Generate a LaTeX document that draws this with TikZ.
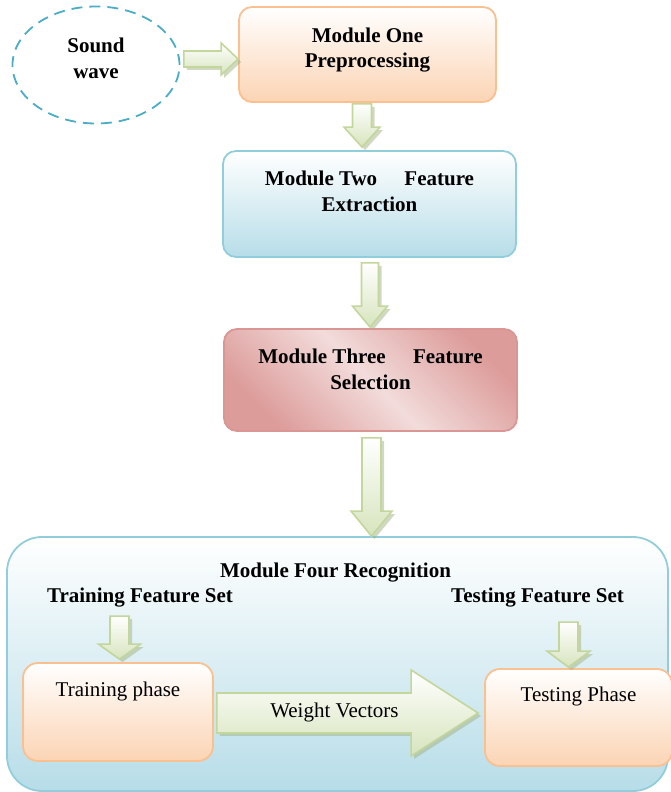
\documentclass[tikz,border=0pt]{standalone}
\usepackage{fontspec}
\setmainfont{Liberation Serif}
\usetikzlibrary{shapes.geometric,shadows,calc}

\definecolor{waveline}{HTML}{4BACC6}
\definecolor{orangeline}{HTML}{FAC090}
\definecolor{orangefill}{HTML}{FBD4B4}
\definecolor{blueline}{HTML}{92CDDC}
\definecolor{bluefill}{HTML}{B7DDE8}
\definecolor{redline}{HTML}{D99694}
\definecolor{reddark}{HTML}{DC9C9A}
\definecolor{redlight}{HTML}{F2DCDB}
\definecolor{greenline}{HTML}{C3D69B}
\definecolor{greenfill}{HTML}{D7E4BD}
\definecolor{greenshade}{HTML}{A3B284}

\tikzstyle{boldtext} = [font=\fontsize{21}{25.5}\selectfont\bfseries, align=center]
\tikzstyle{plaintext} = [font=\fontsize{21}{25.5}\selectfont, align=center]
\tikzstyle{wave} = [ellipse, draw=waveline, line width=1.8pt, dash pattern=on 11pt off 7pt]
\tikzstyle{orangebox} = [draw=orangeline, line width=1.8pt, rounded corners=13pt, top color=white, bottom color=orangefill]
\tikzstyle{bluebox} = [draw=blueline, line width=1.8pt, rounded corners=13pt, top color=white, bottom color=bluefill]
\tikzstyle{redbox} = [draw=redline, line width=1.8pt, rounded corners=13pt, top color=reddark, bottom color=reddark, middle color=redlight, shading angle=-45]
\tikzstyle{flowarrow} = [draw=greenline, line width=1.6pt, line join=miter, top color=white, bottom color=greenfill,
  drop shadow={shadow xshift=3pt, shadow yshift=-3pt, fill=greenshade}]

% block arrow pointing down: top, tip, half shaft, half head, head length
\newcommand{\flowdown}[5]{%
  \path[flowarrow] let \p1=(#1), \p2=(#2) in
    (\x1-#3,\y1) -- (\x1+#3,\y1) -- (\x1+#3,\y2+#5) -- (\x1+#4,\y2+#5) -- (\x1,\y2)
    -- (\x1-#4,\y2+#5) -- (\x1-#3,\y2+#5) -- cycle;}
% block arrow pointing right: start, tip, half shaft, half head, head length
\newcommand{\flowright}[5]{%
  \path[flowarrow] let \p1=(#1), \p2=(#2) in
    (\x1,\y1-#3) -- (\x2-#5,\y1-#3) -- (\x2-#5,\y1-#4) -- (\x2,\y1) -- (\x2-#5,\y1+#4)
    -- (\x2-#5,\y1+#3) -- (\x1,\y1+#3) -- cycle;}

\begin{document}
\begin{tikzpicture}[x=1pt, y=1pt]
\useasboundingbox (0,0) rectangle (671,792);

% input and the three first modules
\node[wave, minimum width=167pt, minimum height=117pt] (sound) at (96,727) {};
\node[boldtext] (soundtxt) at (96,733.5) {Sound\\wave};

\node[orangebox, minimum width=257pt, minimum height=95pt] (m1) at (367.5,737.5) {};
\node[boldtext] (m1txt) at ([yshift=-44pt]m1.north) {Module One\\Preprocessing};

\node[bluebox, minimum width=293pt, minimum height=106pt] (m2) at (369.5,588) {};
\node[boldtext] (m2txt) at ([yshift=-41pt]m2.north) {Module Two\hspace{22pt} Feature\\Extraction};

\node[redbox, minimum width=293pt, minimum height=102pt] (m3) at (370.5,412) {};
\node[boldtext] (m3txt) at ([yshift=-41pt]m3.north) {Module Three\hspace{22pt} Feature\\Selection};

% recognition module
\node[bluebox, rounded corners=35pt, minimum width=661pt, minimum height=254pt] (m4) at (337.5,128) {};
\node[boldtext] (m4txt) at (335.5,219) {Module Four Recognition};
\node[boldtext] (trainset) at (140,194) {Training Feature Set};
\node[boldtext] (testset) at (537.5,194) {Testing Feature Set};

\node[orangebox, rounded corners=15pt, minimum width=190pt, minimum height=98pt] (train) at (118,80) {};
\node[plaintext] (traintxt) at ([yshift=-29pt]train.north) {Training phase};
\node[orangebox, rounded corners=15pt, minimum width=187pt, minimum height=97pt] (test) at (578.5,74.5) {};
\node[plaintext] (testtxt) at ([yshift=-28pt]test.north) {Testing Phase};

% connectors
\coordinate (a0s) at ([xshift=3.5pt, yshift=6pt]sound.east);
\coordinate (a0e) at (m1.west |- a0s);
\flowright{a0s}{a0e}{8pt}{16pt}{17pt}

\coordinate (a1s) at ([xshift=-5.5pt, yshift=-1pt]m1.south);
\coordinate (a1e) at ($(a1s |- m2.north)+(0,3)$);
\flowdown{a1s}{a1e}{9.5pt}{18pt}{20pt}

\coordinate (a2s) at ([xshift=0.5pt, yshift=-5pt]m2.south);
\coordinate (a2e) at ($(a2s |- m3.north)+(0,1)$);
\flowdown{a2s}{a2e}{8.5pt}{17.5pt}{21pt}

\coordinate (a3s) at ([xshift=1pt, yshift=-6pt]m3.south);
\coordinate (a3e) at (a3s |- m4.north);
\flowdown{a3s}{a3e}{9.5pt}{20.5pt}{25pt}

\coordinate (a4s) at ($(train.north)+(1.5,46)$);
\coordinate (a4e) at ($(a4s |- train.north)+(0,3)$);
\flowdown{a4s}{a4e}{9.5pt}{21pt}{15pt}

\coordinate (a5s) at ($(test.north)+(-10,46)$);
\coordinate (a5e) at ($(a5s |- test.north)+(0,1)$);
\flowdown{a5s}{a5e}{9.5pt}{21.5pt}{16pt}

\coordinate (a6s) at ([xshift=3pt, yshift=-1pt]train.east);
\coordinate (a6e) at ($(test.west |- a6s)+(-6,0)$);
\flowright{a6s}{a6e}{20pt}{43pt}{67pt}
\node[plaintext] (weights) at ($(a6s)!0.45!(a6e)+(0,1)$) {Weight Vectors};
\end{tikzpicture}
\end{document}
